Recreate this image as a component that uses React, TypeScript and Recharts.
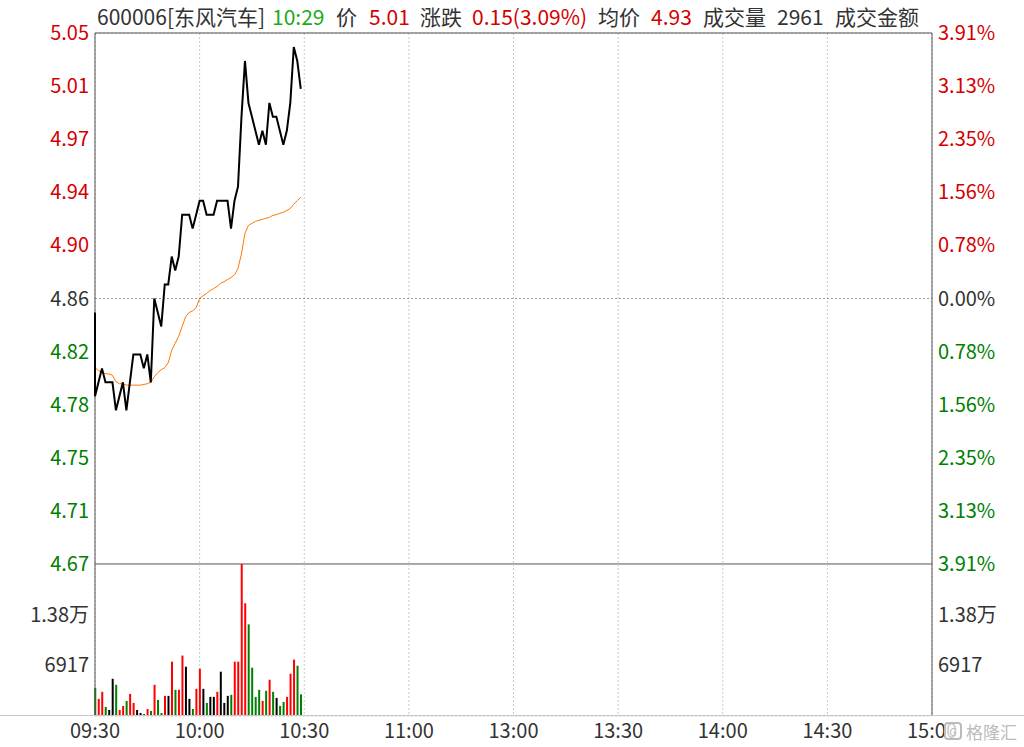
import { LineChart, Line, ComposedChart, Bar, Cell, XAxis, YAxis, CartesianGrid, ReferenceLine } from 'recharts';

const PRE_CLOSE = 4.86;
const OPEN_PRICE = 4.85;
const PRICE_RANGE = 0.19;

const TIME_TICKS = [0, 30, 60, 90, 120, 150, 180, 210, 240];
const TIME_LABELS = ['09:30', '10:00', '10:30', '11:00', '13:00', '13:30', '14:00', '14:30', '15:00'];

// last price per minute, 09:30 - 10:29
const PRICES = [
    4.79, 4.8, 4.81, 4.8, 4.8, 4.8, 4.78, 4.79, 4.8, 4.78,
    4.8, 4.82, 4.82, 4.82, 4.81, 4.82, 4.8, 4.86, 4.85, 4.84,
    4.87, 4.87, 4.89, 4.88, 4.89, 4.92, 4.92, 4.92, 4.91, 4.92,
    4.93, 4.93, 4.92, 4.92, 4.92, 4.93, 4.93, 4.93, 4.93, 4.91,
    4.93, 4.94, 4.99, 5.03, 5.0, 4.99, 4.98, 4.97, 4.98, 4.97,
    5.0, 4.99, 4.99, 4.98, 4.97, 4.98, 5.0, 5.04, 5.03, 5.01,
];

// average price per minute
const AVG_PRICES = [
    4.8105, 4.8084, 4.807, 4.8062, 4.806, 4.805, 4.8005, 4.799, 4.799, 4.798,
    4.798, 4.798, 4.798, 4.798, 4.7985, 4.799, 4.8, 4.804, 4.807, 4.809,
    4.8105, 4.814, 4.823, 4.828, 4.833, 4.84, 4.847, 4.85, 4.851, 4.8535,
    4.86, 4.862, 4.8636, 4.8657, 4.867, 4.8686, 4.8708, 4.872, 4.8736, 4.875,
    4.877, 4.8815, 4.892, 4.9066, 4.9123, 4.9138, 4.9152, 4.916, 4.9166, 4.9174,
    4.918, 4.9195, 4.92, 4.921, 4.9217, 4.923, 4.9245, 4.9274, 4.93, 4.9324,
];

// volume per minute (hands)
const VOLUMES = [
    3850, 2340, 3300, 1240, 820, 5080, 4260, 820, 1370, 2060,
    3020, 1790, 820, 410, 270, 960, 690, 4260, 2200, 410,
    2750, 2750, 7420, 3570, 3570, 8250, 6730, 2340, 960, 3710,
    6460, 3710, 1790, 2610, 2610, 3300, 6050, 1790, 2750, 2890,
    7420, 7420, 20751, 15390, 12510, 6600, 2610, 3570, 2060, 3440,
    4950, 3300, 2470, 1370, 1920, 2610, 5770, 7700, 6870, 2961,
];

const VOL_TICKS = [0, 6917, 13834, 20751];
const VOL_LABELS = ['', '6917', '1.38万', ''];

const RED = '#d40000';
const GREEN = '#008000';
const DARK = '#333333';
const FONT = '"Noto Sans CJK SC", "Noto Sans", sans-serif';
const AXIS_FONT = 20;

const PRICE_TICKS = [-5, -4, -3, -2, -1, 0, 1, 2, 3, 4, 5].map((k) => PRE_CLOSE + (k * PRICE_RANGE) / 5);
const PRICE_DOMAIN = [PRE_CLOSE - PRICE_RANGE, PRE_CLOSE + PRICE_RANGE];

const priceData = [
    { t: 0, price: OPEN_PRICE },
    ...PRICES.map((p, i) => ({ t: i, price: p, avg: AVG_PRICES[i] })),
];

const volumeData = VOLUMES.map((v, i) => {
    const prev = i === 0 ? PRE_CLOSE : PRICES[i - 1];
    const color = PRICES[i] > prev ? '#ff0000' : PRICES[i] < prev ? GREEN : '#000000';
    return { t: i, vol: v, color };
});

function PriceTick(props: any) {
    const { x, y, payload, side } = props;
    const v = payload.value;
    const diff = v - PRE_CLOSE;
    const color = Math.abs(diff) < 1e-6 ? DARK : diff > 0 ? RED : GREEN;
    const label = side === 'left' ? v.toFixed(2) : ((Math.abs(diff) / PRE_CLOSE) * 100).toFixed(2) + '%';
    return (
        <text x={x} y={y} dy="0.35em" textAnchor={side === 'left' ? 'end' : 'start'} fill={color} fontSize={AXIS_FONT} fontFamily={FONT}>
            {label}
        </text>
    );
}

function VolTick(props: any) {
    const { x, y, payload, side } = props;
    const idx = VOL_TICKS.indexOf(payload.value);
    return (
        <text x={x} y={y} dy="0.35em" textAnchor={side === 'left' ? 'end' : 'start'} fill={DARK} fontSize={AXIS_FONT} fontFamily={FONT}>
            {VOL_LABELS[idx] || ''}
        </text>
    );
}

function TimeTick(props: any) {
    const { x, y, payload } = props;
    const idx = TIME_TICKS.indexOf(payload.value);
    return (
        <text x={x} y={y + 15} dy="0.35em" textAnchor="middle" fill={DARK} fontSize={AXIS_FONT} fontFamily={FONT}>
            {TIME_LABELS[idx]}
        </text>
    );
}

const headerItems = [
    { text: '600006[东风汽车]', color: DARK, left: 97 },
    { text: '10:29', color: '#1aaa1a', left: 272 },
    { text: '价', color: DARK, left: 336 },
    { text: '5.01', color: RED, left: 369 },
    { text: '涨跌', color: DARK, left: 420 },
    { text: '0.15(3.09%)', color: RED, left: 472 },
    { text: '均价', color: DARK, left: 598 },
    { text: '4.93', color: RED, left: 651 },
    { text: '成交量', color: DARK, left: 703 },
    { text: '2961', color: DARK, left: 777 },
    { text: '成交金额', color: DARK, left: 835 },
];

export default function App() {
    return (
        <div style={{ position: 'absolute', left: 0, top: 0, width: 1024, height: 747, background: '#fff', fontFamily: FONT, overflow: 'hidden' }}>
            {headerItems.map((h) => (
                <span key={h.text} style={{ position: 'absolute', left: h.left, top: 2, fontSize: 21, lineHeight: '28px', whiteSpace: 'pre', color: h.color }}>
                    {h.text}
                </span>
            ))}

            <div style={{ position: 'absolute', left: 0, top: 0 }}>
                <LineChart width={1024} height={600} data={priceData} margin={{ top: 33, right: 0, left: 0, bottom: 36 }}>
                    <CartesianGrid stroke="#c8c8c8" strokeDasharray="2 2" />
                    <XAxis dataKey="t" type="number" domain={[0, 240]} ticks={TIME_TICKS} hide />
                    <YAxis
                        yAxisId="left"
                        orientation="left"
                        width={95}
                        domain={PRICE_DOMAIN}
                        ticks={PRICE_TICKS}
                        interval={0}
                        axisLine={false}
                        tickLine={false}
                        tickSize={0}
                        tickMargin={6}
                        tick={(p: any) => <PriceTick {...p} side="left" />}
                    />
                    <YAxis
                        yAxisId="right"
                        orientation="right"
                        width={92}
                        domain={PRICE_DOMAIN}
                        ticks={PRICE_TICKS}
                        interval={0}
                        axisLine={false}
                        tickLine={false}
                        tickSize={0}
                        tickMargin={6}
                        tick={(p: any) => <PriceTick {...p} side="right" />}
                    />
                    <ReferenceLine yAxisId="left" y={PRE_CLOSE} stroke="#999" strokeDasharray="2 2" />
                    <ReferenceLine yAxisId="left" y={PRICE_DOMAIN[1]} stroke="#555" />
                    <ReferenceLine yAxisId="left" y={PRICE_DOMAIN[0]} stroke="#555" />
                    <ReferenceLine yAxisId="left" x={0} stroke="#555" />
                    <ReferenceLine yAxisId="left" x={240} stroke="#555" />
                    <Line yAxisId="right" type="linear" dataKey="price" stroke="none" dot={false} activeDot={false} isAnimationActive={false} />
                    <Line yAxisId="left" type="linear" dataKey="avg" stroke="#ff7700" strokeWidth={1} dot={false} isAnimationActive={false} />
                    <Line yAxisId="left" type="linear" dataKey="price" stroke="#000" strokeWidth={2} dot={false} isAnimationActive={false} />
                </LineChart>
            </div>

            <div style={{ position: 'absolute', left: 0, top: 564 }}>
                <ComposedChart width={1024} height={183} data={volumeData} margin={{ top: 0, right: 0, left: 0, bottom: 0 }} barSize={2}>
                    <CartesianGrid stroke="#c8c8c8" strokeDasharray="2 2" />
                    <XAxis
                        dataKey="t"
                        type="number"
                        domain={[0, 240]}
                        ticks={TIME_TICKS}
                        interval={0}
                        height={31}
                        axisLine={false}
                        tickLine={false}
                        tickSize={0}
                        tickMargin={0}
                        tick={(p: any) => <TimeTick {...p} />}
                    />
                    <YAxis
                        yAxisId="left"
                        orientation="left"
                        width={95}
                        domain={[0, VOL_TICKS[3]]}
                        ticks={VOL_TICKS}
                        interval={0}
                        axisLine={false}
                        tickLine={false}
                        tickSize={0}
                        tickMargin={6}
                        tick={(p: any) => <VolTick {...p} side="left" />}
                    />
                    <YAxis
                        yAxisId="right"
                        orientation="right"
                        width={92}
                        domain={[0, VOL_TICKS[3]]}
                        ticks={VOL_TICKS}
                        interval={0}
                        axisLine={false}
                        tickLine={false}
                        tickSize={0}
                        tickMargin={6}
                        tick={(p: any) => <VolTick {...p} side="right" />}
                    />
                    <ReferenceLine yAxisId="left" x={0} stroke="#555" />
                    <ReferenceLine yAxisId="left" x={240} stroke="#555" />
                    <Line yAxisId="right" type="linear" dataKey="vol" stroke="none" dot={false} activeDot={false} isAnimationActive={false} />
                    <Bar yAxisId="left" dataKey="vol" isAnimationActive={false}>
                        {volumeData.map((d, i) => (
                            <Cell key={`v-${i}`} fill={d.color} />
                        ))}
                    </Bar>
                </ComposedChart>
            </div>

            <div style={{ position: 'absolute', left: 0, top: 715, width: 1024, height: 1, background: '#c8c8c8' }} />

            <div style={{ position: 'absolute', left: 944, top: 719, height: 24, width: 80, whiteSpace: 'nowrap', display: 'flex', alignItems: 'center', color: '#bbb', fontSize: 17, background: 'rgba(255,255,255,0.75)' }}>
                <span style={{ display: 'inline-block', width: 14, height: 14, border: '2px solid #bbb', borderRadius: 4, fontSize: 11, lineHeight: '14px', textAlign: 'center', marginRight: 4 }}>G</span>
                <span>格隆汇</span>
            </div>
        </div>
    );
}
